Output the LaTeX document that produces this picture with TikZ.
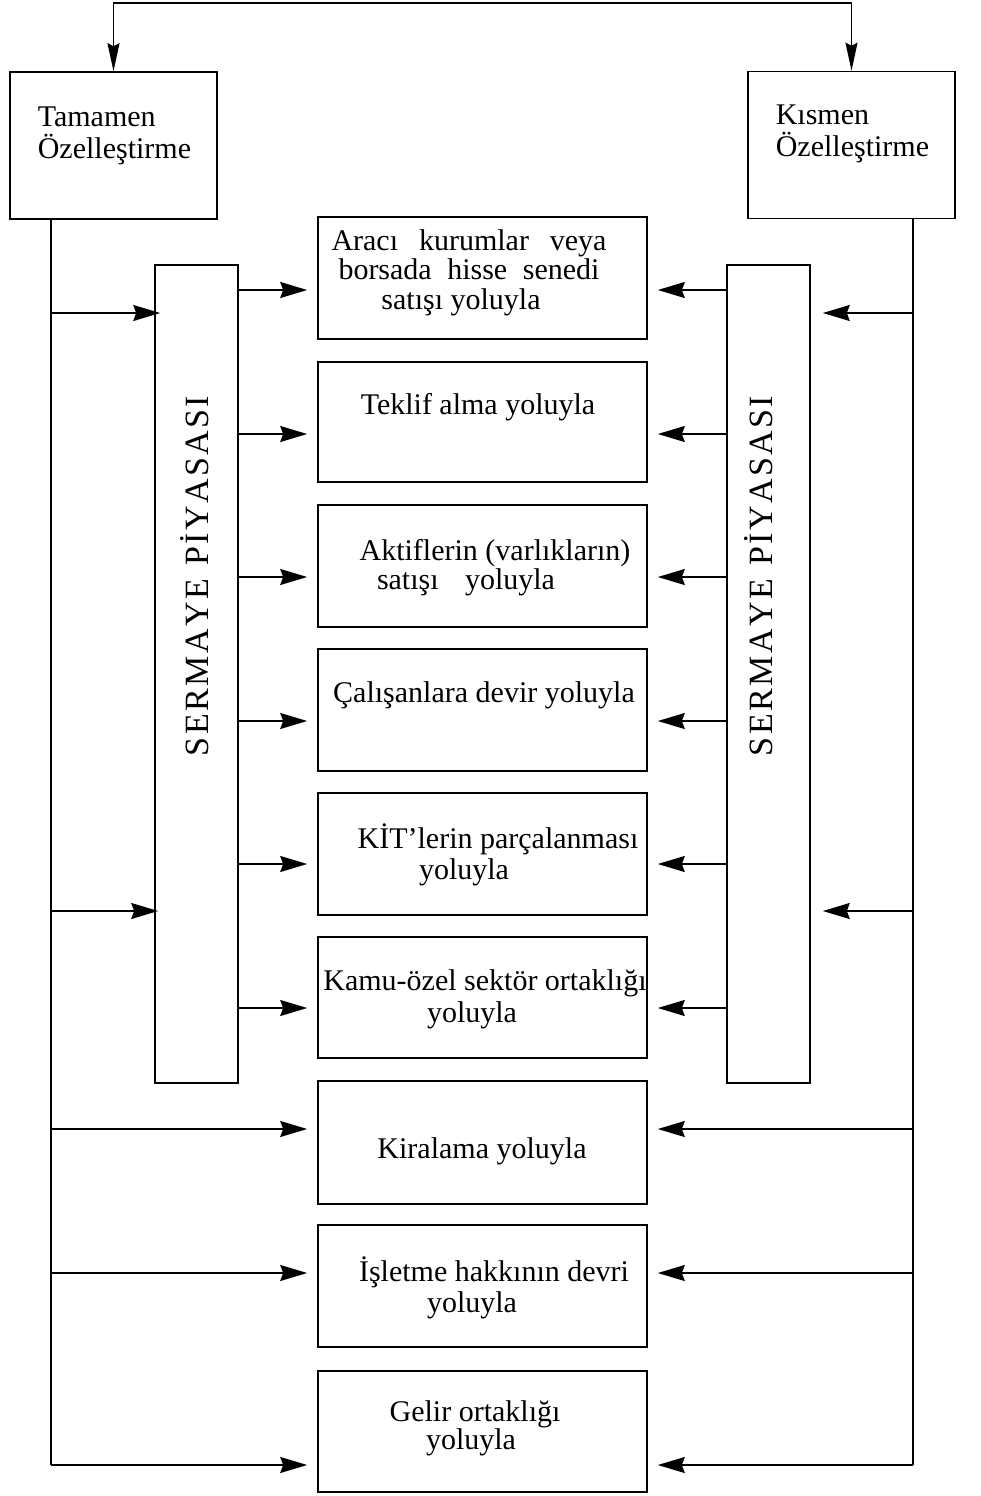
\documentclass[tikz,border=0pt]{standalone}
\usepackage{fontspec}
\setmainfont{Liberation Serif}
\usetikzlibrary{arrows.meta}
\newcommand\lsp{\kern2.4pt}
\begin{document}
\begin{tikzpicture}[x=1pt,y=-1pt, line width=1.6pt,
  box/.style={draw, rectangle, inner sep=0pt, minimum width=329pt},
  sidebox/.style={draw, rectangle, inner sep=0pt, minimum width=83pt, minimum height=818pt},
  topbox/.style={draw, rectangle, inner sep=0pt, minimum width=207pt, minimum height=147pt},
  lbl/.style={inner sep=0pt, align=center, font=\fontsize{30}{29}\selectfont},
  lbll/.style={inner sep=0pt, align=left, anchor=west, font=\fontsize{30}{32}\selectfont},
  vlbl/.style={inner sep=0pt, rotate=90, font=\fontsize{34}{34}\selectfont},
  arr/.style={-{Stealth[length=27pt,width=16pt,inset=3pt]}},
  arrtwo/.style={{Stealth[length=28pt,width=12pt,inset=3pt]}-{Stealth[length=28pt,width=12pt,inset=3pt]}},
  ]
\useasboundingbox (0,0) rectangle (980,1496);

% top boxes
\node[topbox] (TL) at (113.5,145.5) {};
\node[topbox] (TR) at (851.5,145) {};
\node[lbll] (TLt) at (37,136) {Tamamen\\Özelleştirme};
\node[lbll] (TRt) at (775,134) {Kısmen\\Özelleştirme};

% side boxes
\node[sidebox] (SL) at (196.5,674) {};
\node[sidebox] (SR) at (768.5,674) {};
\node[vlbl] (SLt) at (195,576) {S\lsp E\lsp R\lsp M\lsp A\lsp Y\lsp E\lsp\ \lsp P\lsp İ\lsp Y\lsp A\lsp S\lsp A\lsp S\lsp I};
\node[vlbl] (SRt) at (759,576) {S\lsp E\lsp R\lsp M\lsp A\lsp Y\lsp E\lsp\ \lsp P\lsp İ\lsp Y\lsp A\lsp S\lsp A\lsp S\lsp I};

% centre boxes
\node[box, minimum height=122pt] (B1) at (482.5,278) {};
\node[box, minimum height=120pt] (B2) at (482.5,422) {};
\node[box, minimum height=122pt] (B3) at (482.5,566) {};
\node[box, minimum height=122pt] (B4) at (482.5,710) {};
\node[box, minimum height=122pt] (B5) at (482.5,854) {};
\node[box, minimum height=121pt] (B6) at (482.5,997.5) {};
\node[box, minimum height=123pt] (B7) at (482.5,1142.5) {};
\node[box, minimum height=122pt] (B8) at (482.5,1286) {};
\node[box, minimum height=121pt] (B9) at (482.5,1431.5) {};

% labels
\node[lbl] (T1) at (469,273) {\makebox[275pt][s]{Aracı kurumlar veya}\\[0pt]\makebox[261pt][s]{borsada hisse senedi}\\[1pt]satışı yoluyla\hspace*{16pt}};
\node[lbl] (T2) at (478,407) {Teklif alma yoluyla};
\node[lbl] (T3) at (495,568) {Aktiflerin (varlıkların)\\[0pt]\makebox[178pt][s]{satışı yoluyla}\hspace*{58pt}};
\node[lbl] (T4) at (484,695) {Çalışanlara devir yoluyla};
\node[lbl] (T5) at (498,855) {KİT{\char"27}lerin parçalanması\\[2pt]yoluyla\hspace*{68pt}};
\node[lbl] (T6) at (485,999) {Kamu-özel sektör ortaklığı\\[3pt]yoluyla\hspace*{26pt}};
\node[lbl] (T7) at (482,1151) {Kiralama yoluyla};
\node[lbl] (T8) at (494,1288) {İşletme hakkının devri\\[2pt]yoluyla\hspace*{44pt}};
\node[lbl] (T9) at (475,1428) {Gelir ortaklığı\\[-1pt]yoluyla\hspace*{8pt}};

% top connector
\coordinate (topy) at (0,3);
\draw[arrtwo] (TL.north) -- (TL.north |- topy) -- (TR.north |- topy) -- (TR.north);

% trunks
\coordinate (LX) at (51,0);
\coordinate (RX) at (913,0);
\coordinate (ya) at (0,313);
\coordinate (yb) at (0,911);
\coordinate (yc) at (0,1129);
\coordinate (yd) at (0,1273);
\coordinate (ye) at (0,1465);
\draw (TL.south -| LX) -- (LX |- ye);
\draw (TR.south -| RX) -- (RX |- ye);
\draw[arr, shorten >=-6pt] (LX |- ya) -- (SL.west |- ya);
\draw[arr, shorten >=-4pt] (LX |- yb) -- (SL.west |- yb);
\draw[arr, shorten >=12pt] (RX |- ya) -- (SR.east |- ya);
\draw[arr, shorten >=12pt] (RX |- yb) -- (SR.east |- yb);
\foreach \y/\b in {yc/B7, yd/B8, ye/B9}{
  \draw[arr, shorten >=10pt] (LX |- \y) -- (\b.west |- \y);
  \draw[arr, shorten >=10pt] (RX |- \y) -- (\b.east |- \y);
}

% from capital market boxes
\foreach \yy/\b in {290/B1, 434/B2, 577/B3, 721/B4, 864/B5, 1008/B6}{
  \coordinate (c\b) at (0,\yy);
  \draw[arr, shorten >=10pt] (SL.east |- c\b) -- (\b.west |- c\b);
  \draw[arr, shorten >=10pt] (SR.west |- c\b) -- (\b.east |- c\b);
}
\end{tikzpicture}
\end{document}
